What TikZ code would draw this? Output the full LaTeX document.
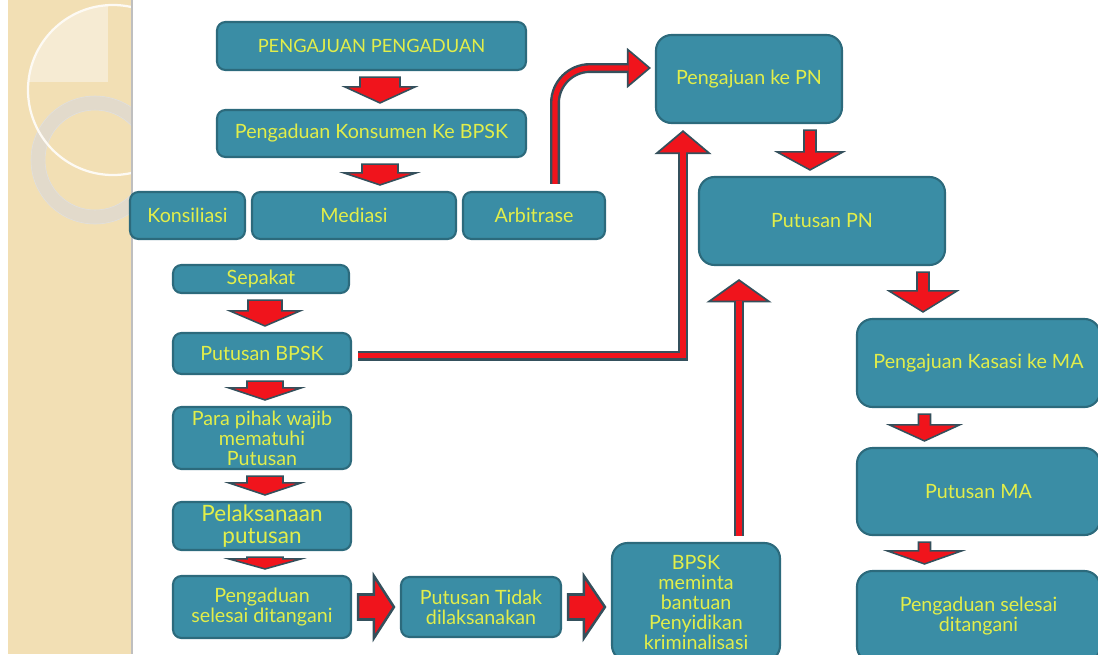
\documentclass[tikz,border=0pt]{standalone}
\usepackage{fontspec}
\setmainfont{Lato}
\usetikzlibrary{positioning, arrows.meta, calc}

\definecolor{boxfill}{HTML}{3A8DA5}
\definecolor{boxline}{HTML}{2C6A7C}
\definecolor{txt}{HTML}{E2EE4A}
\definecolor{arrred}{HTML}{F0141C}
\definecolor{arrline}{HTML}{34505C}
\definecolor{strip}{HTML}{F2DFB4}
\definecolor{striplight}{HTML}{F6EBD3}
\definecolor{ring}{HTML}{E2DACB}

\tikzset{
  box/.style={draw=boxline, fill=boxfill, line width=1.5pt, rounded corners=6pt,
    inner sep=0pt, text=txt, align=center, font=\fontsize{14}{14.2}\selectfont},
  bigbox/.style={box, rounded corners=11pt},
  sz/.style 2 args={minimum width=#1*0.025cm, minimum height=#2*0.025cm},
  blk/.style={fill=arrred, draw=arrline, line width=1.1pt, line join=miter},
  link/.style={draw=arrline, line width=0.25cm},
  linkin/.style={draw=arrred, line width=0.13cm},
}

% fat block arrow going down: from, to, x shift, shaft half width, head half width, head length
\newcommand{\blkdown}[6]{%
  \filldraw[blk] let \p1=($(#1.south)+(#3,6)$), \p2=($(#2.north)+(0,-6)$),
    \p3=(#4,0), \p4=(#5,0), \p5=(#6,0) in
    (\x1-\x3,\y1) -- (\x1+\x3,\y1) -- (\x1+\x3,\y2+\x5) -- (\x1+\x4,\y2+\x5)
    -- (\x1,\y2) -- (\x1-\x4,\y2+\x5) -- (\x1-\x3,\y2+\x5) -- cycle;}
% fat block arrow going right: from, to, shaft half width, head half width, head length
\newcommand{\blkright}[5]{%
  \filldraw[blk, line width=1.8pt] let \p1=($(#1.east)+(6,0)$), \p2=($(#2.west)+(-6,0)$),
    \p3=(#3,0), \p4=(#4,0), \p5=(#5,0) in
    (\x1,\y1+\x3) -- (\x2-\x5,\y1+\x3) -- (\x2-\x5,\y1+\x4) -- (\x2,\y1)
    -- (\x2-\x5,\y1-\x4) -- (\x2-\x5,\y1-\x3) -- (\x1,\y1-\x3) -- cycle;}

\begin{document}
\begin{tikzpicture}[x=0.025cm, y=-0.025cm]
    \useasboundingbox (0,0) rectangle (1098,654);

    % left decorative strip
    \fill[strip] (8,0) rectangle (132,654);
    \begin{scope}
      \clip (8,0) rectangle (132,654);
      \begin{scope}
        \clip (113,90) circle[radius=85];
        \fill[striplight] (8,0) rectangle (108,82);
      \end{scope}
      \draw[ring, line width=0.35cm] (95,160) circle[radius=57];
      \draw[black!12, line width=0.4pt] (95,160) circle[radius=64] (95,160) circle[radius=50];
      \draw[white!85!strip, line width=1.6pt] (113,90) circle[radius=85];
    \end{scope}
    \draw[black!25, line width=0.8pt] (132,0) -- (132,654);

    % left column
    \node[box, sz={309}{48}, font=\fontsize{13}{14}\selectfont] (pa) at (371.5,46) {PENGAJUAN PENGADUAN};
    \node[box, sz={309}{47}] (pk) at (371.5,133.5) {Pengaduan Konsumen Ke BPSK};
    \node[box, sz={115}{47}] (kon) at (187.5,215.5) {Konsiliasi};
    \node[box, sz={204}{47}] (med) at (354,215.5) {Mediasi};
    \node[box, sz={142}{47}] (arb) at (534,215.5) {Arbitrase};
    \node[box, sz={176}{28}] (sep) at (261,279) {Sepakat};
    \node[box, sz={178}{41}] (pb) at (262,353.5) {Putusan BPSK};
    \node[box, sz={178}{62}] (para) at (262,438) {Para pihak wajib\\ mematuhi\\ Putusan};
    \node[box, sz={178}{48}, font=\fontsize{16}{15.8}\selectfont] (pel) at (262,526) {Pelaksanaan\\ putusan};
    \node[box, sz={178}{62}] (psl) at (262,607) {Pengaduan\\ selesai ditangani};
    \node[box, sz={160}{60}] (ptd) at (481,607) {Putusan Tidak\\ dilaksanakan};
    \node[bigbox, sz={168}{118}] (bm) at (696,602) {BPSK\\ meminta\\ bantuan\\ Penyidikan\\ kriminalisasi};

    % right column
    \node[bigbox, sz={186}{88}] (pn) at (749,79) {Pengajuan ke PN};
    \node[bigbox, sz={246}{88}] (ppn) at (822,221) {Putusan PN};
    \node[bigbox, sz={243}{88}] (kas) at (978.5,363) {Pengajuan Kasasi ke MA};
    \node[bigbox, sz={243}{87}] (pma) at (978.5,491.5) {Putusan MA};
    \node[bigbox, sz={243}{91}] (psr) at (978.5,616.5) {Pengaduan selesai\\ ditangani};

    % block arrows
    \blkdown{pa}{pk}{8.5}{20}{35}{16}
    \blkdown{pk}{med}{8.5}{18}{36}{12}
    \blkdown{sep}{pb}{4}{17}{35}{15}
    \blkdown{pb}{para}{3}{18}{36}{12}
    \blkdown{para}{pel}{3}{18}{36}{12}
    \blkdown{pel}{psl}{3}{18}{36}{10}
    \blkdown{pn}{ppn}{61}{6}{33}{18}
    \blkdown{ppn}{kas}{101}{6}{34}{21}
    \blkdown{kas}{pma}{-54}{6}{35}{16}
    \blkdown{pma}{psr}{-54}{6}{37}{13}
    \blkright{psl}{ptd}{12.5}{31}{20}
    \blkright{ptd}{bm}{12.5}{31}{21}

    % thin connectors
    \draw[link, rounded corners=0.875cm, -{Triangle[length=0.6cm, width=1cm, fill=arrred, line width=1.2pt]}]
      ($(arb.north)+(21,-7)$) |- ($(pn.west)+(-4,-11)$);
    \draw[linkin, rounded corners=0.875cm, shorten >=0.56cm]
      ($(arb.north)+(21,-7)$) |- ($(pn.west)+(-4,-11)$);
    \draw[link, -{Triangle[length=0.6cm, width=1.42cm, fill=arrred, line width=1.2pt]}]
      ($(pb.east)+(6,2)$) -| ($(pn.south)+(-66,6)$);
    \draw[linkin, shorten >=0.56cm]
      ($(pb.east)+(6,2)$) -| ($(pn.south)+(-66,6)$);
    \draw[link, -{Triangle[length=0.58cm, width=1.62cm, fill=arrred, line width=1.2pt]}]
      ($(bm.north)+(43,-6)$) -- ($(ppn.south)+(-83,13)$);
    \draw[linkin, shorten >=0.54cm]
      ($(bm.north)+(43,-6)$) -- ($(ppn.south)+(-83,13)$);
\end{tikzpicture}
\end{document}
